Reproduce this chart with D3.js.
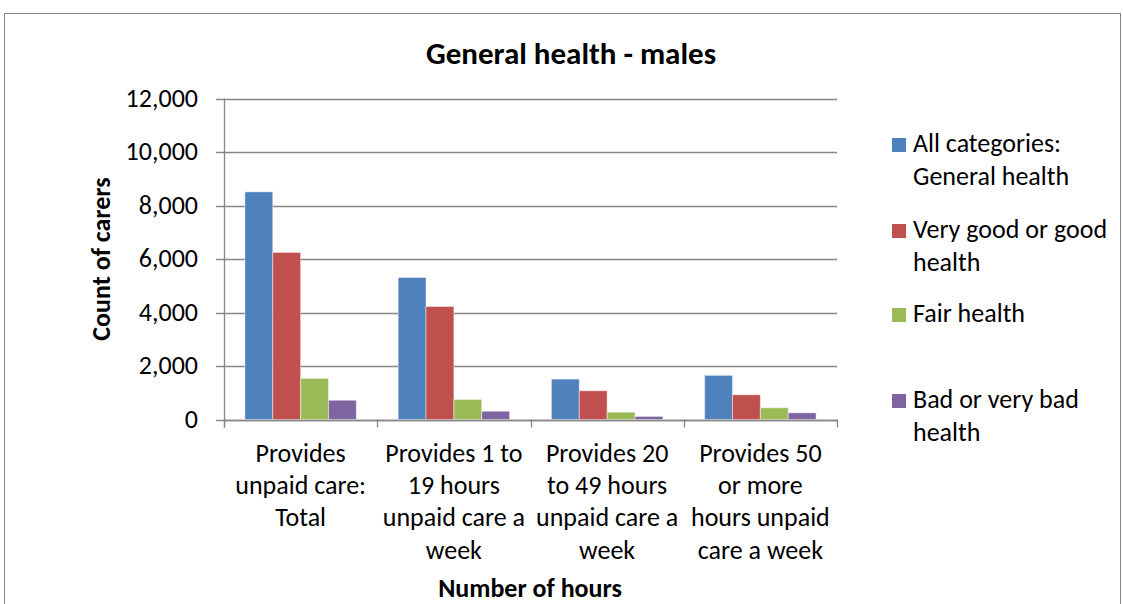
<!DOCTYPE html>
<html>
<head>
<meta charset="utf-8">
<script src="https://cdn.jsdelivr.net/npm/d3@7"></script>
<style>
  html, body { margin: 0; padding: 0; background: #fff; }
  svg { display: block; }
  text { font-family: Carlito, Calibri, Lato, "Open Sans", sans-serif; fill: #000; }
</style>
</head>
<body>
<svg id="chart" width="1123" height="604"></svg>
<script>
const categories = [
  ["Provides", "unpaid care:", "Total"],
  ["Provides 1 to", "19 hours", "unpaid care a", "week"],
  ["Provides 20", "to 49 hours", "unpaid care a", "week"],
  ["Provides 50", "or more", "hours unpaid", "care a week"]
];
const seriesNames = [
  ["All categories:", "General health"],
  ["Very good or good", "health"],
  ["Fair health"],
  ["Bad or very bad", "health"]
];
const seriesColors = ["#4F81BD", "#C0504D", "#9BBB59", "#8064A2"];
const allCategories = [8510, 5310, 1510, 1650];
const veryGoodGood  = [6245, 4225, 1075, 925];
const fairHealth    = [1535, 750, 275, 440];
const badVeryBad    = [720, 310, 115, 250];
const seriesValues = [allCategories, veryGoodGood, fairHealth, badVeryBad];
const yTicks = [0, 2000, 4000, 6000, 8000, 10000, 12000];

(function () {
const svg = d3.select("#chart");
const pLeft = 224, pRight = 837, pTop = 98.5, pBottom = 419.5;
const fs = 26;

// chart border
svg.append("rect").attr("x", 4.5).attr("y", 13.5).attr("width", 1116).attr("height", 600)
  .attr("fill", "none").attr("stroke", "#868686").attr("stroke-width", 1);

const x = d3.scaleBand().domain(d3.range(categories.length)).range([pLeft, pRight]).paddingInner(0).paddingOuter(0);
const bw = x.bandwidth();
const barW = bw / (4 + 1.5);
const xs = d3.scaleBand().domain(d3.range(seriesNames.length)).range([barW * 0.75, bw - barW * 0.75]).padding(0);
const y = d3.scaleLinear().domain([0, 12000]).range([pBottom, pTop]);

// gridlines
svg.append("g").selectAll("line").data(yTicks).join("line")
  .attr("x1", pLeft - 8).attr("x2", pRight)
  .attr("y1", d => Math.round(y(d)) + 0.5).attr("y2", d => Math.round(y(d)) + 0.5)
  .attr("stroke", "#868686").attr("stroke-width", 1.3);

// y tick labels
svg.append("g").selectAll("text").data(yTicks).join("text")
  .attr("x", 198).attr("y", d => y(d)).attr("dy", "0.32em")
  .attr("text-anchor", "end").attr("font-size", fs)
  .text(d => d3.format(",")(d));

// bars
const groups = svg.append("g").selectAll("g").data(categories).join("g")
  .attr("transform", (d, i) => `translate(${x(i)},0)`);
groups.selectAll("rect").data((d, i) => seriesValues.map((s, j) => ({ j, v: s[i] }))).join("rect")
  .attr("x", d => xs(d.j)).attr("width", xs.bandwidth())
  .attr("y", d => y(d.v)).attr("height", d => y(0) - y(d.v))
  .attr("fill", d => seriesColors[d.j])
  .attr("stroke", "rgba(255,255,255,0.45)").attr("stroke-width", 1);

// y axis line
svg.append("line").attr("x1", pLeft + 0.5).attr("x2", pLeft + 0.5).attr("y1", pTop).attr("y2", pBottom + 8)
  .attr("stroke", "#868686").attr("stroke-width", 1.3);
// x axis line + category ticks
svg.append("line").attr("x1", pLeft).attr("x2", pRight).attr("y1", Math.round(pBottom) + 0.5).attr("y2", Math.round(pBottom) + 0.5)
  .attr("stroke", "#868686").attr("stroke-width", 1.3);
const tickPos = d3.range(categories.length).map(i => x(i)).concat([pRight]);
svg.append("g").selectAll("line").data(tickPos).join("line")
  .attr("x1", d => Math.round(d) + 0.5).attr("x2", d => Math.round(d) + 0.5)
  .attr("y1", pBottom).attr("y2", pBottom + 8)
  .attr("stroke", "#868686").attr("stroke-width", 1.3);

// category labels
const catG = svg.append("g").selectAll("text").data(categories).join("text")
  .attr("text-anchor", "middle").attr("font-size", fs)
  .attr("transform", (d, i) => `translate(${x(i) + bw / 2},462)`);
catG.selectAll("tspan").data(d => d).join("tspan")
  .attr("x", 0).attr("y", (d, k) => k * 32.2).text(d => d);

// title
svg.append("text").attr("x", 571).attr("y", 64).attr("text-anchor", "middle")
  .attr("font-size", 31).attr("font-weight", "bold").text("General health - males");

// axis titles
svg.append("text").attr("transform", "translate(110,259) rotate(-90)").attr("text-anchor", "middle")
  .attr("font-size", fs).attr("font-weight", "bold").text("Count of carers");
svg.append("text").attr("x", 530).attr("y", 597).attr("text-anchor", "middle")
  .attr("font-size", fs).attr("font-weight", "bold").text("Number of hours");

// legend
const legendY = [145, 231, 315, 401];
const leg = svg.append("g").selectAll("g").data(seriesNames).join("g")
  .attr("transform", (d, i) => `translate(892,${legendY[i]})`);
leg.append("rect").attr("x", 0).attr("y", -7).attr("width", 14).attr("height", 14)
  .attr("fill", (d, i) => seriesColors[i]);
leg.append("text").attr("font-size", fs)
  .selectAll("tspan").data(d => d).join("tspan")
  .attr("x", 21).attr("y", (d, k) => 7 + k * 32.5).text(d => d);
})();
</script>
</body>
</html>
